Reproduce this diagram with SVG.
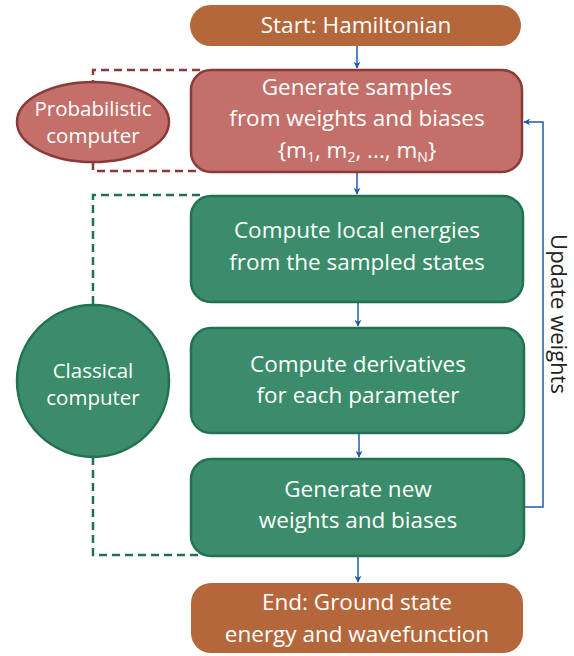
<svg xmlns="http://www.w3.org/2000/svg" width="574" height="656" viewBox="0 0 574 656">
<style>
.t{font-family:"Open Sans","Noto Sans",sans-serif;font-size:22.5px;fill:#ffffff;text-anchor:middle}
.e{font-family:"Open Sans","Noto Sans",sans-serif;font-size:20.5px;fill:#ffffff;text-anchor:middle}
.sub{font-size:14px;fill:#ffffff}
.brown{fill:#B5673C}
.red{fill:#C4706A;stroke:#8A3A38;stroke-width:2.5}
.green{fill:#3A8C6A;stroke:#237153;stroke-width:2.5}
.conn{fill:none;stroke:#1F5CAA;stroke-width:1.5}
.dr{fill:none;stroke:#8A3A38;stroke-width:2.5;stroke-dasharray:8 5}
.dg{fill:none;stroke:#237153;stroke-width:2.5;stroke-dasharray:8 5}
</style>
<defs>
<marker id="ah" viewBox="0 0 10 10" refX="9" refY="5" markerWidth="7" markerHeight="7" markerUnits="userSpaceOnUse" orient="auto">
<path d="M0,0 L10,5 L0,10 L3,5 z" fill="#1F5CAA"/>
</marker>
</defs>
<g id="brackets">
<path class="dr" d="M200,70 H93 V82"/>
<path class="dr" d="M93,162 V171 H200"/>
<path class="dg" d="M200,195 H93 V305"/>
<path class="dg" d="M93,457 V555 H200"/>
</g>
<g id="connectors">
<path class="conn" d="M357,46 V68" marker-end="url(#ah)"/>
<path class="conn" d="M357,172 V194" marker-end="url(#ah)"/>
<path class="conn" d="M358,302 V326" marker-end="url(#ah)"/>
<path class="conn" d="M359,433 V457" marker-end="url(#ah)"/>
<path class="conn" d="M358,556 V582" marker-end="url(#ah)"/>
<path class="conn" d="M524,507 H543 V122 H524" marker-end="url(#ah)"/>
</g>
<g id="start">
<rect class="brown" x="190" y="5" width="331" height="41" rx="20.5"/>
<text class="t" x="356" y="33">Start: Hamiltonian</text>
</g>
<g id="sample">
<rect class="red" x="191" y="70" width="331" height="102" rx="20"/>
<text class="t" x="357" y="95">Generate samples</text>
<text class="t" x="357" y="126">from weights and biases</text>
<text class="t" x="357" y="158">{m<tspan class="sub" dy="4">1</tspan><tspan dy="-4">, m</tspan><tspan class="sub" dy="4">2</tspan><tspan dy="-4">, ..., m</tspan><tspan class="sub" dy="4">N</tspan><tspan dy="-4">}</tspan></text>
</g>
<g id="prob">
<ellipse class="red" cx="93" cy="122" rx="76" ry="40"/>
<text class="e" x="93" y="116">Probabilistic</text>
<text class="e" x="93" y="143">computer</text>
</g>
<g id="local">
<rect class="green" x="191" y="196" width="332" height="106" rx="20"/>
<text class="t" x="357" y="238">Compute local energies</text>
<text class="t" x="357" y="270">from the sampled states</text>
</g>
<g id="deriv">
<rect class="green" x="191" y="328" width="333" height="105" rx="20"/>
<text class="t" x="358" y="372">Compute derivatives</text>
<text class="t" x="358" y="403">for each parameter</text>
</g>
<g id="newweights">
<rect class="green" x="191" y="459" width="333" height="97" rx="20"/>
<text class="t" x="358" y="497">Generate new</text>
<text class="t" x="358" y="528">weights and biases</text>
</g>
<g id="classical">
<ellipse class="green" cx="93" cy="381" rx="76" ry="76"/>
<text class="e" x="93" y="378">Classical</text>
<text class="e" x="93" y="405">computer</text>
</g>
<g id="end">
<rect class="brown" x="191" y="583" width="332" height="70" rx="20"/>
<text class="t" x="357" y="610">End: Ground state</text>
<text class="t" x="357" y="642">energy and wavefunction</text>
</g>
<g id="label">
<text x="551" y="314" transform="rotate(90 551 314)" style="font-family:'Open Sans','Noto Sans',sans-serif;font-size:22px;fill:#222;text-anchor:middle">Update weights</text>
</g>
</svg>
